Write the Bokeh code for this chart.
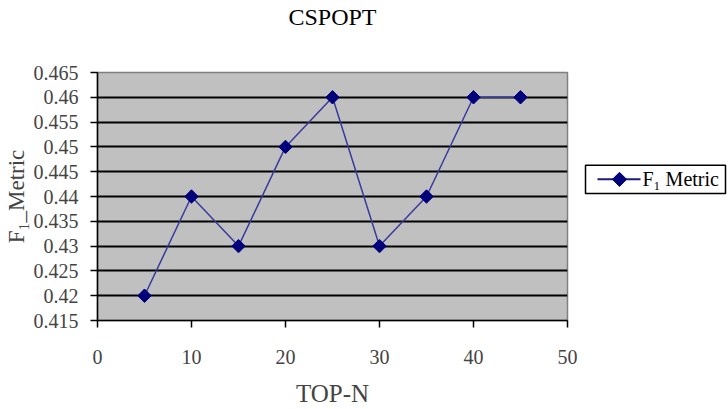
import math
from bokeh.plotting import figure
from bokeh.models import FixedTicker, Range1d
from bokeh.layouts import row, column
from bokeh.core.properties import value
from bokeh.embed import file_html
from bokeh.resources import INLINE

# ---- data ----
top_n = [5, 10, 15, 20, 25, 30, 35, 40, 45]
f1_metric = [0.42, 0.44, 0.43, 0.45, 0.46, 0.43, 0.44, 0.46, 0.46]
x_ticks = [0, 10, 20, 30, 40, 50]
y_ticks = [0.415, 0.42, 0.425, 0.43, 0.435, 0.44, 0.445, 0.45, 0.455, 0.46, 0.465]
y_tick_labels = ["0.415", "0.42", "0.425", "0.43", "0.435", "0.44", "0.445",
                 "0.45", "0.455", "0.46", "0.465"]
grid_ticks = [0.42, 0.425, 0.43, 0.435, 0.44, 0.445, 0.45, 0.455, 0.46]
title_text = "CSPOPT"
x_label = "TOP-N"
y_label = "F\u2081_Metric"
series_name = "F\u2081 Metric"

FONT = "Liberation Serif"
LINE_COLOR = "#3a3a9e"
MARK_COLOR = "#00007a"

TOTAL_W = 728
TITLE_H = 40
MAIN_W, MAIN_H = 579, 369


def blank(width, height):
    f = figure(width=width, height=height, output_backend="svg",
               toolbar_location=None,
               x_range=Range1d(0, width), y_range=Range1d(0, height),
               min_border=0, min_border_left=0, min_border_right=0,
               min_border_top=0, min_border_bottom=0)
    f.axis.visible = False
    f.grid.visible = False
    f.outline_line_color = None
    f.background_fill_color = "white"
    f.border_fill_color = "white"
    return f


# ---- title strip ----
tf = blank(TOTAL_W, TITLE_H)
tf.text([332], [TITLE_H - 16], text=[title_text], text_font=value(FONT),
        text_font_size="24px", text_align="center", text_baseline="middle",
        text_color="black")

# ---- main chart ----
p = figure(width=MAIN_W, height=MAIN_H, output_backend="svg",
           toolbar_location=None,
           x_range=Range1d(0, 50), y_range=Range1d(0.415, 0.465),
           min_border_left=97, min_border_right=12,
           min_border_top=32, min_border_bottom=88)

p.background_fill_color = "#c0c0c0"
p.border_fill_color = "white"
p.outline_line_color = "#808080"
p.outline_line_width = 1.5

# x axis
xa = p.xaxis[0]
xa.ticker = FixedTicker(ticks=x_ticks)
xa.axis_label = x_label
xa.axis_label_text_font = FONT
xa.axis_label_text_font_size = "25px"
xa.axis_label_text_font_style = "normal"
xa.axis_label_standoff = 13
xa.major_label_text_font = FONT
xa.major_label_text_font_size = "20px"
xa.major_label_standoff = 22
xa.major_tick_out = 7
xa.major_tick_in = 0
xa.minor_tick_out = 0
xa.axis_line_color = "black"
xa.axis_line_width = 1.5
xa.major_tick_line_color = "black"
xa.major_tick_line_width = 1.5

# y axis
ya = p.yaxis[0]
ya.ticker = FixedTicker(ticks=y_ticks)
ya.major_label_overrides = {t: l for t, l in zip(y_ticks, y_tick_labels)}
ya.axis_label = y_label
ya.axis_label_text_font = FONT
ya.axis_label_text_font_size = "23px"
ya.axis_label_text_font_style = "normal"
ya.axis_label_standoff = 2
ya.major_label_text_font = FONT
ya.major_label_text_font_size = "20px"
ya.major_label_standoff = 12
ya.major_tick_out = 7
ya.major_tick_in = 0
ya.minor_tick_out = 0
ya.axis_line_color = "black"
ya.axis_line_width = 1.5
ya.major_tick_line_color = "black"
ya.major_tick_line_width = 1.5

# grid
p.xgrid.visible = False
p.ygrid.ticker = FixedTicker(ticks=grid_ticks)
p.ygrid.grid_line_color = "black"
p.ygrid.grid_line_width = 2
p.ygrid.grid_line_alpha = 1

# series
p.line(top_n, f1_metric, line_color=LINE_COLOR, line_width=1.5)
p.scatter(top_n, f1_metric, marker="square", size=9.5, angle=math.pi / 4,
          fill_color=MARK_COLOR, line_color=MARK_COLOR)

# ---- legend panel (pixel coordinates) ----
LW = TOTAL_W - MAIN_W
lg = blank(LW, MAIN_H)
box_l, box_r, box_b, box_t = 6, 146, MAIN_H - 220 + TITLE_H, MAIN_H - 178 + TITLE_H
cy = (box_b + box_t) / 2
lg.quad(left=[box_l], right=[box_r], bottom=[box_b], top=[box_t],
        fill_color="white", line_color="black", line_width=1.5)
lg.line([18, 61], [cy, cy], line_color="#1a1a80", line_width=2)
lg.scatter([40], [cy], marker="square", size=10, angle=math.pi / 4,
           fill_color=MARK_COLOR, line_color=MARK_COLOR)
lg.text([63], [cy], text=[series_name], text_font=value(FONT),
        text_font_size="20px", text_baseline="middle", text_color="black")

layout = column(tf, row(p, lg, spacing=0), spacing=0)

open("out.html", "w").write(file_html(layout, INLINE))
